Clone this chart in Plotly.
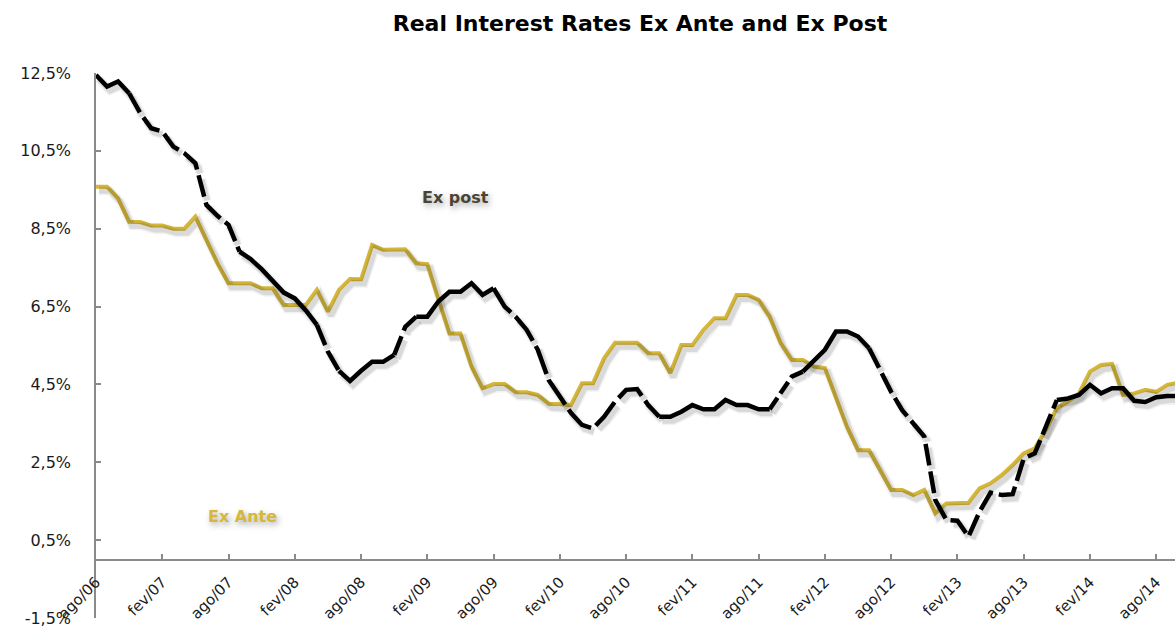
import plotly.graph_objects as go

# ---------------- data ----------------
PT_MONTHS = ["jan", "fev", "mar", "abr", "mai", "jun", "jul", "ago", "set", "out", "nov", "dez"]
# monthly categories from ago/06 to out/14
MONTHS = [f"{PT_MONTHS[(7 + k) % 12]}/{(6 + (7 + k) // 12):02d}" for k in range(99)]

EX_ANTE = [
    9.58, 9.58, 9.28, 8.68, 8.67, 8.58, 8.58, 8.50, 8.50, 8.81,
    8.21, 7.61, 7.10, 7.10, 7.10, 6.97, 6.97, 6.54, 6.54, 6.54,
    6.93, 6.37, 6.93, 7.21, 7.20, 8.08, 7.96, 7.97, 7.97, 7.61,
    7.59, 6.69, 5.81, 5.81, 4.96, 4.40, 4.51, 4.51, 4.30, 4.30,
    4.23, 4.00, 4.00, 3.97, 4.53, 4.53, 5.17, 5.57, 5.57, 5.57,
    5.30, 5.30, 4.79, 5.51, 5.51, 5.90, 6.20, 6.20, 6.80, 6.80,
    6.67, 6.24, 5.56, 5.13, 5.13, 4.96, 4.92, 4.19, 3.41, 2.81,
    2.81, 2.30, 1.79, 1.79, 1.66, 1.79, 1.19, 1.44, 1.46, 1.46,
    1.83, 1.96, 2.17, 2.43, 2.73, 2.86, 3.33, 3.89, 4.06, 4.27,
    4.83, 5.00, 5.03, 4.23, 4.27, 4.36, 4.31, 4.49, 4.55,
]

EX_POST = [
    12.45, 12.15, 12.28, 11.98, 11.47, 11.08, 11.00, 10.61, 10.44, 10.18,
    9.11, 8.83, 8.60, 7.91, 7.72, 7.46, 7.16, 6.86, 6.71, 6.40,
    6.03, 5.34, 4.85, 4.59, 4.85, 5.08, 5.08, 5.26, 5.98, 6.24,
    6.24, 6.63, 6.88, 6.88, 7.10, 6.80, 6.97, 6.50, 6.24, 5.90,
    5.39, 4.61, 4.19, 3.77, 3.46, 3.37, 3.67, 4.06, 4.36, 4.38,
    3.97, 3.67, 3.67, 3.80, 3.97, 3.86, 3.86, 4.10, 3.97, 3.97,
    3.86, 3.86, 4.27, 4.70, 4.83, 5.13, 5.39, 5.86, 5.86, 5.73,
    5.43, 4.87, 4.31, 3.84, 3.50, 3.16, 1.53, 1.02, 1.00, 0.59,
    1.23, 1.72, 1.66, 1.68, 2.60, 2.73, 3.41, 4.10, 4.14, 4.23,
    4.49, 4.27, 4.40, 4.40, 4.08, 4.05, 4.17, 4.20, 4.20,
]

X_TICK_LABELS = ["ago/06", "fev/07", "ago/07", "fev/08", "ago/08", "fev/09", "ago/09",
                 "fev/10", "ago/10", "fev/11", "ago/11", "fev/12", "ago/12", "fev/13",
                 "ago/13", "fev/14", "ago/14"]
Y_TICKS = [-1.5, 0.5, 2.5, 4.5, 6.5, 8.5, 10.5, 12.5]
Y_TICK_LABELS = ["-1,5%", "0,5%", "2,5%", "4,5%", "6,5%", "8,5%", "10,5%", "12,5%"]

# ---------------- styles ----------------
GOLD = "#D5B83B"
BLACK = "#000000"
# line-style runs (index ranges) for the Ex post line: solid or long-dash
POST_RUNS = [
    (0, 3, None), (3, 13, "22px,6px"), (13, 20, None), (20, 22, "22px,6px"),
    (22, 27, None), (27, 29, "20px,6px"), (29, 36, None), (36, 51, "30px,6px"),
    (51, 61, None), (61, 64, "14px,5px"), (64, 70, None), (70, 87, "22px,6px"),
    (87, 98, None),
]
ANTE_RUNS = [(0, 98, None)]

X_RANGE = [0, 97.7]
Y_RANGE = [-1.5, 12.5]
SHADOW_DX = 3 / 11.04   # shadow offset in months (about 3 px)
SHADOW_DY = 4 / 38.93   # shadow offset in % (about 4 px)

fig = go.Figure()


def add_series(values, runs, color, width, xaxis="x", yaxis="y"):
    for a, b, dash in runs:
        fig.add_trace(go.Scatter(
            x=MONTHS[a:b + 1], y=values[a:b + 1], mode="lines",
            line=dict(color=color, width=width, dash=dash if dash else "solid"),
            xaxis=xaxis, yaxis=yaxis, hoverinfo="skip", showlegend=False,
        ))


# soft shadows (drawn on offset overlay axes)
for w, c in [(9, "rgba(0,0,0,0.05)"), (6, "rgba(0,0,0,0.10)")]:
    add_series(EX_ANTE, ANTE_RUNS, c, w, "x2", "y2")
    add_series(EX_POST, POST_RUNS, c, w, "x2", "y2")

# main lines
add_series(EX_ANTE, ANTE_RUNS, GOLD, 4)
add_series(EX_POST, POST_RUNS, BLACK, 4.5)

tick_font = dict(family="DejaVu Sans", size=16, color="#1a1a1a")
xtick_font = dict(family="DejaVu Sans", size=15, color="#1a1a1a")

fig.update_layout(
    width=1175, height=628,
    margin=dict(l=96, r=0, t=73, b=10),
    paper_bgcolor="white", plot_bgcolor="white",
    showlegend=False,
    title=dict(
        text="<b>Real Interest Rates Ex Ante and Ex Post</b>",
        x=640 / 1175, xanchor="center", xref="container",
        y=1 - 23 / 628, yanchor="middle", yref="container",
        font=dict(family="DejaVu Sans", size=22, color="#000000"),
    ),
    xaxis=dict(
        type="category", categoryorder="array", categoryarray=MONTHS,
        range=X_RANGE, anchor="free", position=1.5 / 14, automargin=False,
        showgrid=False, zeroline=False,
        showline=True, linecolor="#8a8a8a", linewidth=1.5,
        ticks="inside", ticklen=5, tickcolor="#8a8a8a", tickwidth=1.5,
        tickmode="array", tickvals=X_TICK_LABELS, ticktext=X_TICK_LABELS,
        tickangle=-45, tickfont=xtick_font, ticklabelstandoff=7,
    ),
    yaxis=dict(
        range=Y_RANGE, showgrid=False, zeroline=False, automargin=False,
        showline=True, linecolor="#8a8a8a", linewidth=1.5,
        ticks="inside", ticklen=5, tickcolor="#8a8a8a", tickwidth=1.5,
        tickmode="array", tickvals=Y_TICKS, ticktext=Y_TICK_LABELS,
        tickfont=tick_font, ticklabelstandoff=20,
    ),
    xaxis2=dict(
        type="category", categoryorder="array", categoryarray=MONTHS,
        range=[X_RANGE[0] - SHADOW_DX, X_RANGE[1] - SHADOW_DX],
        overlaying="x", anchor="y2", visible=False, automargin=False,
    ),
    yaxis2=dict(
        range=[Y_RANGE[0] + SHADOW_DY, Y_RANGE[1] + SHADOW_DY],
        overlaying="y", anchor="x2", visible=False, automargin=False,
    ),
    annotations=[
        dict(text="<b>Ex post</b>", x=(455 - 96) / 1079, y=(618 - 197) / 545,
             xref="paper", yref="paper", xanchor="center", yanchor="middle",
             showarrow=False,
             font=dict(family="DejaVu Sans", size=16, color="#4A4533",
                       shadow="2px 3px 6px rgba(0,0,0,0.35)")),
        dict(text="<b>Ex Ante</b>", x=(242 - 96) / 1079, y=(618 - 516) / 545,
             xref="paper", yref="paper", xanchor="center", yanchor="middle",
             showarrow=False,
             font=dict(family="DejaVu Sans", size=16, color=GOLD,
                       shadow="2px 3px 6px rgba(0,0,0,0.35)")),
    ],
)

fig.write_html("out.html")
